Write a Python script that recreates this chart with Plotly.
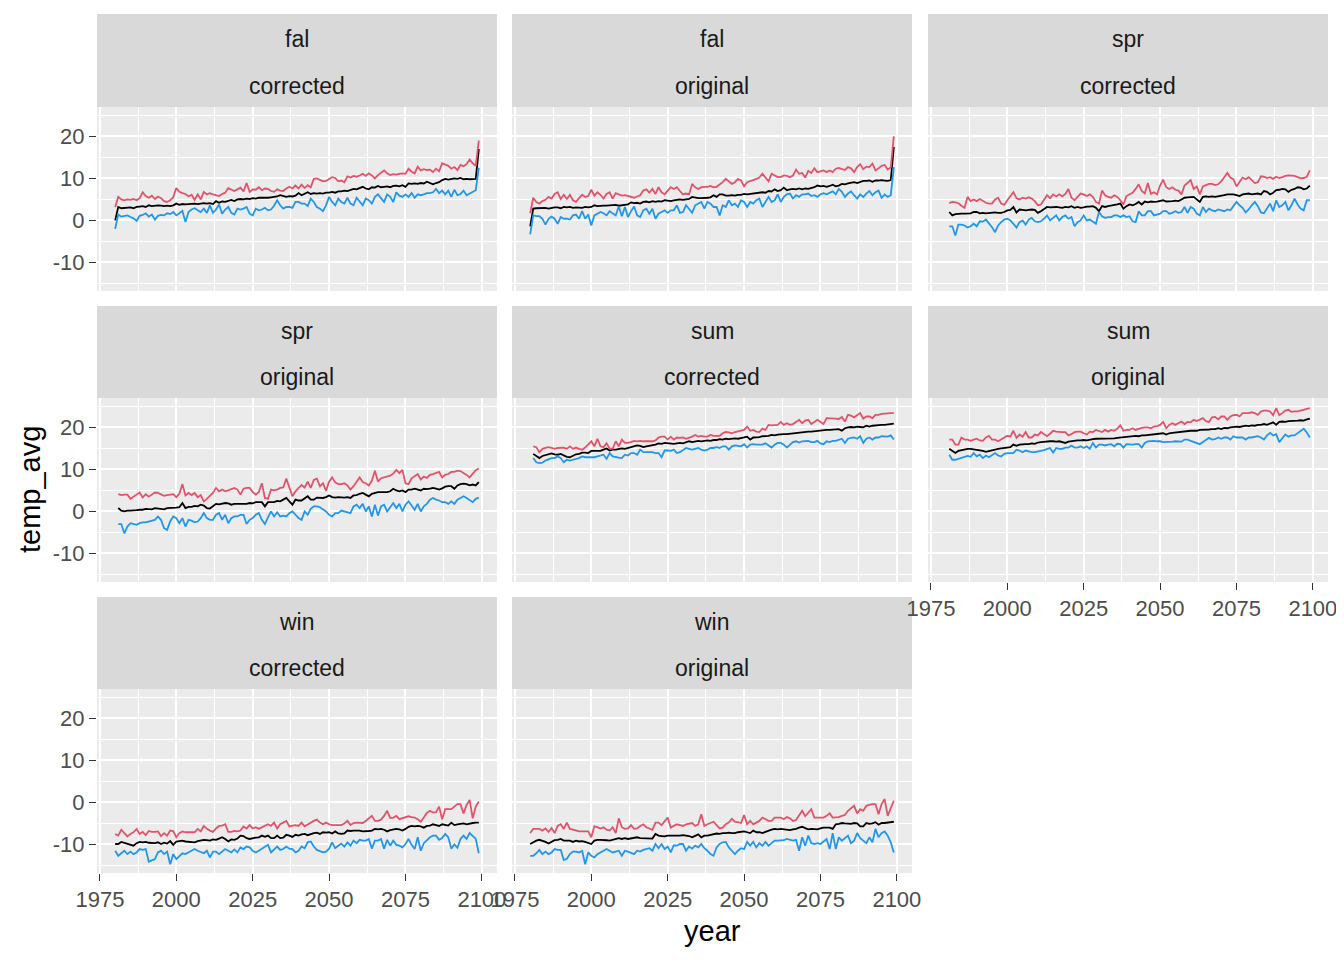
import plotly.graph_objects as go

# ---------------- data ----------------
years_fw = list(range(1980, 2100))   # fal, win panels
years_ss = list(range(1981, 2100))   # spr, sum panels

panel_season = ["fal", "fal", "spr", "spr", "sum", "sum", "win", "win"]
panel_type = ["corrected", "original", "corrected", "original",
              "corrected", "original", "corrected", "original"]

x_ticks = [1975, 2000, 2025, 2050, 2075, 2100]
x_tick_labels = ["1975", "2000", "2025", "2050", "2075", "2100"]
y_ticks = [-10, 0, 10, 20]
y_tick_labels = ["-10", "0", "10", "20"]

fal_cor_max = [3.2, 5.6, 5.0, 4.8, 5.0, 4.9, 5.1, 4.8, 5.3, 6.7,
               5.8, 5.4, 5.9, 5.1, 5.7, 5.3, 4.6, 4.4, 4.8, 5.5,
               7.7, 6.8, 6.5, 6.3, 5.7, 6.1, 4.9, 6.2, 5.0, 6.8,
               6.2, 6.5, 6.2, 6.0, 5.8, 6.3, 6.6, 7.7, 7.3, 7.0,
               7.4, 7.8, 6.9, 8.9, 6.8, 7.4, 7.3, 7.9, 7.2, 7.6,
               7.5, 7.0, 6.8, 7.4, 7.1, 7.0, 7.6, 8.0, 7.6, 8.3,
               7.6, 8.5, 7.7, 8.4, 7.9, 9.9, 10.0, 9.6, 9.3, 9.4,
               9.9, 10.3, 10.1, 9.3, 9.5, 9.1, 10.5, 10.2, 10.6, 10.4,
               10.7, 11.1, 10.6, 11.2, 10.7, 10.0, 10.8, 11.4, 11.9, 11.2,
               10.8, 11.0, 10.9, 11.1, 11.2, 11.1, 12.3, 11.6, 11.2, 12.8,
               11.9, 12.2, 12.0, 12.1, 11.5, 12.3, 11.7, 13.6, 13.3, 13.0,
               12.3, 12.7, 12.0, 13.2, 12.9, 13.4, 14.5, 13.6, 13.0, 19.0]
fal_cor_avg = [0.0, 3.2, 2.9, 3.0, 3.0, 3.1, 2.9, 3.2, 3.3, 3.4,
               3.2, 3.6, 3.4, 3.5, 3.6, 3.5, 3.4, 3.5, 3.4, 3.6,
               4.0, 3.7, 3.9, 3.8, 3.9, 3.9, 4.0, 3.9, 4.0, 4.1,
               4.0, 4.1, 3.9, 4.6, 4.2, 4.5, 4.4, 4.7, 4.9, 4.6,
               5.0, 5.1, 5.0, 5.2, 5.1, 5.3, 5.2, 5.4, 5.4, 5.3,
               5.4, 5.5, 5.6, 5.7, 6.0, 5.8, 5.6, 5.8, 5.7, 5.9,
               6.5, 6.0, 6.4, 6.7, 6.3, 6.5, 6.4, 6.5, 6.4, 6.6,
               6.6, 6.8, 6.6, 6.9, 6.9, 7.1, 7.0, 7.2, 7.5, 7.4,
               7.7, 8.0, 7.6, 7.4, 7.9, 7.8, 8.2, 7.9, 8.0, 8.1,
               7.9, 8.2, 8.3, 8.1, 8.4, 8.0, 8.8, 8.7, 8.8, 8.7,
               8.9, 8.8, 9.2, 8.8, 8.6, 8.9, 9.1, 9.6, 9.9, 9.7,
               9.9, 10.0, 9.9, 10.1, 9.8, 9.9, 9.8, 9.9, 9.9, 17.0]
fal_cor_min = [-2.0, 1.4, 0.9, 1.1, 1.2, 0.8, 0.5, -0.1, 1.1, 1.3,
               1.7, 0.9, 1.4, 0.2, 1.1, 1.3, 1.2, 1.7, 1.5, 2.0,
               1.2, 1.7, 2.3, -0.4, 2.0, 2.6, 2.9, 2.4, 2.0, 2.8,
               1.8, 3.6, 1.8, 2.6, 3.8, 1.6, 2.6, 3.2, 1.8, 1.4,
               2.8, 2.6, 2.8, 3.2, 1.6, 1.2, 2.8, 2.4, 2.6, 3.0,
               2.4, 2.6, 3.5, 4.8, 3.6, 2.8, 3.2, 3.2, 3.0, 4.4,
               4.4, 4.0, 4.0, 3.4, 5.2, 4.4, 3.2, 2.8, 2.2, 3.6,
               5.6, 4.4, 3.6, 5.2, 4.4, 4.0, 5.4, 4.0, 3.6, 5.4,
               4.4, 3.6, 5.2, 4.8, 4.0, 5.6, 6.2, 5.2, 4.4, 6.2,
               5.6, 4.4, 6.7, 5.9, 5.6, 6.2, 5.6, 6.5, 5.4, 6.2,
               6.0, 6.2, 6.5, 6.5, 6.7, 7.5, 6.5, 7.1, 6.2, 7.1,
               5.6, 7.3, 6.0, 6.3, 7.1, 6.0, 6.4, 6.9, 7.2, 12.5]

fal_ori_max = [1.7, 5.4, 4.4, 4.0, 4.6, 4.9, 5.6, 5.2, 6.3, 6.7,
               5.1, 6.1, 5.1, 6.1, 4.8, 4.4, 5.3, 6.1, 5.6, 5.8,
               7.3, 5.9, 6.7, 6.1, 5.2, 6.3, 6.7, 5.2, 6.5, 6.2,
               5.9, 6.0, 5.8, 5.6, 5.4, 5.7, 6.0, 7.1, 7.4, 6.6,
               7.5, 6.3, 7.9, 6.7, 6.2, 7.1, 7.9, 7.5, 7.9, 7.0,
               6.2, 6.4, 6.2, 8.7, 7.9, 7.5, 7.9, 8.0, 8.0, 8.2,
               7.9, 8.0, 8.5, 9.1, 9.9, 9.3, 8.7, 9.1, 9.9, 9.5,
               8.1, 9.1, 9.3, 9.6, 9.9, 10.2, 11.1, 10.3, 9.3, 11.1,
               10.7, 10.3, 10.3, 10.7, 10.6, 10.3, 10.7, 12.1, 11.1, 11.3,
               10.2, 11.8, 11.3, 12.4, 11.5, 11.7, 11.9, 11.5, 11.9, 11.5,
               12.3, 12.5, 12.2, 12.0, 12.7, 12.4, 11.5, 12.7, 13.4, 12.2,
               12.8, 12.7, 13.5, 11.9, 12.4, 13.0, 13.2, 12.1, 12.6, 20.0]
fal_ori_avg = [-1.4, 2.8, 2.9, 2.9, 2.9, 3.0, 2.8, 3.0, 3.1, 3.1,
               2.9, 3.2, 3.1, 3.2, 3.0, 3.1, 3.1, 3.0, 3.2, 3.1,
               3.2, 3.6, 3.4, 3.5, 3.5, 3.5, 3.6, 3.6, 3.7, 3.5,
               3.6, 3.7, 3.8, 4.3, 4.1, 4.2, 4.0, 4.4, 4.5, 4.3,
               4.6, 4.4, 4.6, 4.5, 4.8, 4.7, 4.6, 4.8, 4.9, 5.0,
               4.9, 5.0, 5.1, 5.6, 5.4, 5.3, 5.3, 5.3, 5.4, 5.5,
               6.0, 5.6, 6.2, 6.2, 5.9, 5.9, 6.0, 5.9, 6.1, 6.1,
               6.3, 6.2, 6.3, 6.4, 6.6, 6.6, 6.7, 6.6, 7.0, 6.9,
               7.4, 7.0, 7.2, 7.8, 7.2, 7.4, 7.5, 7.4, 7.6, 7.4,
               7.6, 7.5, 7.7, 7.9, 8.3, 8.1, 8.2, 8.0, 8.2, 8.5,
               8.1, 8.3, 8.7, 8.6, 8.8, 8.9, 9.1, 8.9, 9.2, 9.4,
               9.4, 9.5, 9.2, 9.5, 9.5, 9.6, 9.5, 9.4, 9.6, 17.5]
fal_ori_min = [-3.3, 1.2, 1.0, 1.0, 0.4, -1.0, 0.4, 0.9, 0.4, -0.8,
               0.8, 0.4, 0.4, 0.2, 1.2, 1.4, 0.4, 2.2, 0.4, 1.4,
               -1.2, 1.2, 1.6, 2.0, 1.7, 1.2, 2.2, 1.7, 1.2, 3.3,
               1.0, 3.2, 0.8, 2.2, 3.3, 1.2, 0.8, 2.4, 2.8, 1.6,
               2.8, 0.4, 1.6, 2.0, 2.4, 1.8, 2.4, 2.4, 3.6, 1.8,
               2.0, 3.6, 2.8, 1.8, 3.6, 4.0, 4.4, 2.8, 4.4, 4.0,
               3.2, 3.2, 1.2, 3.6, 3.2, 4.8, 3.6, 4.0, 3.2, 4.8,
               4.4, 3.2, 4.4, 4.0, 4.8, 5.2, 3.2, 4.4, 5.6, 4.4,
               4.8, 6.2, 4.4, 5.6, 6.2, 6.4, 5.2, 6.0, 5.6, 6.2,
               6.2, 6.4, 5.8, 6.0, 5.6, 6.2, 6.5, 6.2, 6.6, 6.9,
               6.2, 7.5, 6.8, 5.6, 6.4, 6.9, 6.0, 5.2, 6.2, 5.6,
               6.4, 7.0, 6.0, 6.7, 7.1, 5.4, 6.2, 5.6, 6.0, 12.7]

spr_cor_max = [4.1, 4.4, 4.3, 4.1, 3.5, 3.0, 5.6, 4.6, 5.0, 4.6,
               5.1, 4.6, 4.2, 4.0, 4.0, 5.0, 5.4, 4.0, 3.7, 4.8,
               5.8, 6.7, 5.3, 5.0, 5.4, 5.2, 5.5, 5.2, 4.6, 3.6,
               3.8, 4.8, 6.0, 5.3, 6.2, 5.7, 6.2, 5.7, 6.3, 7.5,
               5.4, 4.8, 5.5, 6.4, 6.2, 5.8, 6.2, 5.6, 4.4, 4.0,
               7.1, 6.0, 5.6, 5.4, 6.0, 5.6, 4.8, 3.8, 5.8, 6.3,
               6.6, 7.5, 8.6, 7.0, 6.4, 8.9, 6.3, 6.7, 6.2, 8.3,
               9.7, 7.9, 7.5, 7.9, 7.3, 7.1, 6.2, 8.3, 8.9, 9.6,
               7.5, 8.1, 6.2, 8.1, 8.4, 8.7, 8.7, 8.4, 8.6, 9.3,
               10.3, 11.3, 10.2, 9.8, 8.1, 9.2, 10.2, 9.8, 10.3, 9.6,
               8.9, 9.1, 10.5, 10.4, 10.1, 10.3, 9.9, 10.4, 10.1, 10.3,
               10.6, 10.7, 10.7, 10.6, 10.3, 10.0, 10.1, 10.4, 11.9]
spr_cor_avg = [2.0, 1.2, 1.5, 1.6, 1.6, 1.6, 1.7, 1.7, 2.0, 2.0,
               1.7, 1.8, 1.7, 1.8, 1.8, 1.9, 1.8, 1.8, 2.0, 2.4,
               2.5, 3.2, 1.9, 2.6, 2.5, 2.4, 2.5, 2.6, 2.5, 1.8,
               2.2, 2.8, 3.2, 3.1, 3.2, 3.2, 3.1, 3.0, 3.2, 3.1,
               3.4, 3.0, 3.2, 3.0, 3.1, 3.3, 3.3, 3.4, 3.0, 2.2,
               3.4, 3.2, 3.4, 3.5, 3.6, 3.8, 4.0, 2.8, 3.4, 3.8,
               3.6, 3.9, 4.4, 3.8, 4.5, 4.3, 4.5, 4.4, 4.5, 4.7,
               4.8, 4.5, 4.5, 4.6, 4.7, 4.6, 5.0, 5.4, 5.5, 5.5,
               5.6, 5.0, 4.4, 5.6, 5.7, 5.6, 5.7, 5.6, 5.7, 5.8,
               6.0, 6.2, 6.2, 6.2, 6.0, 5.8, 6.2, 6.3, 6.4, 6.2,
               6.3, 6.4, 6.2, 7.0, 6.8, 6.2, 6.6, 7.2, 7.3, 7.5,
               7.4, 6.8, 7.3, 7.5, 7.9, 7.8, 7.4, 7.6, 8.3]
spr_cor_min = [-1.4, -1.4, -3.6, -1.0, -1.0, -1.2, -1.7, -1.4, -0.8, -1.4,
               -0.2, -0.3, 0.2, -0.6, -1.6, -2.8, -1.2, -0.4, 0.2, 0.4,
               0.0, -0.8, -1.7, -0.4, 0.0, -1.0, 0.2, 0.6, -0.2, -0.4,
               -0.2, 0.4, 1.2, 0.0, 0.6, 1.2, 0.0, 0.8, 1.2, 0.4,
               0.8, -1.4, -0.4, 0.0, 1.2, 0.0, 0.2, -0.2, -0.8, 2.0,
               1.0, 0.6, 0.8, 0.8, 1.2, 1.2, 0.8, 1.2, 0.8, 1.0,
               -0.2, -0.4, 2.2, 1.2, 1.2, 2.2, 2.2, 1.2, 1.4, 1.6,
               2.2, 2.2, 1.6, 1.8, 2.2, 1.8, 2.0, 3.2, 1.8, 3.2,
               2.8, 1.6, 1.2, 3.2, 2.0, 2.8, 2.4, 2.2, 2.6, 2.4,
               2.2, 2.6, 2.4, 3.4, 4.4, 3.6, 3.0, 1.9, 2.6, 3.6,
               4.4, 3.4, 1.9, 1.7, 2.8, 4.0, 2.2, 4.8, 3.2, 3.6,
               4.4, 2.4, 3.6, 5.2, 3.8, 2.8, 2.4, 4.8, 4.8]

spr_ori_max = [4.1, 3.9, 4.0, 4.0, 3.0, 3.6, 4.0, 4.5, 3.3, 4.1,
               3.5, 4.0, 4.5, 4.4, 4.0, 3.7, 3.9, 4.0, 4.1, 3.4,
               4.2, 6.5, 3.8, 4.4, 3.9, 4.4, 3.4, 3.9, 2.4, 3.0,
               3.6, 4.4, 5.6, 4.8, 5.2, 4.8, 5.0, 5.4, 5.6, 5.2,
               4.0, 5.4, 5.6, 5.6, 4.6, 4.0, 4.6, 6.7, 3.2, 3.0,
               5.2, 5.0, 5.2, 5.6, 5.7, 7.8, 5.9, 3.6, 4.8, 5.6,
               6.3, 5.7, 7.1, 5.6, 7.5, 7.8, 6.0, 6.7, 4.9, 7.1,
               8.1, 6.9, 6.5, 6.5, 6.7, 6.2, 5.2, 6.0, 7.1, 8.1,
               7.0, 6.7, 6.2, 7.3, 9.7, 7.1, 7.9, 8.1, 8.3, 8.5,
               9.0, 9.9, 9.1, 9.9, 6.7, 6.5, 7.9, 8.5, 8.9, 7.6,
               8.3, 8.0, 8.7, 8.9, 9.1, 9.4, 8.1, 8.7, 8.9, 9.4,
               9.4, 9.7, 9.6, 9.2, 8.7, 8.1, 8.9, 9.8, 10.2]
spr_ori_avg = [0.8, 0.2, 0.0, 0.2, 0.2, 0.2, 0.3, 0.4, 0.4, 0.6,
               0.6, 0.5, 0.8, 0.7, 0.6, 0.5, 0.8, 0.8, 0.9, 0.9,
               1.0, 2.0, 0.8, 1.1, 1.1, 1.3, 1.2, 1.6, 1.4, 0.8,
               0.7, 1.2, 1.8, 1.7, 1.8, 2.0, 1.9, 1.6, 1.8, 1.8,
               1.7, 1.8, 1.8, 2.0, 1.9, 2.2, 2.2, 2.2, 1.2, 2.2,
               2.2, 2.2, 2.5, 2.4, 2.8, 3.2, 2.4, 1.6, 2.8, 2.6,
               2.6, 3.0, 3.6, 2.8, 2.8, 3.3, 3.2, 3.2, 3.4, 3.8,
               3.4, 3.3, 3.4, 3.3, 3.3, 3.4, 3.2, 3.8, 3.9, 4.2,
               4.4, 4.0, 3.6, 4.2, 4.4, 4.6, 4.6, 4.6, 4.6, 4.8,
               5.4, 5.0, 4.8, 5.0, 4.6, 5.2, 5.2, 5.4, 5.2, 5.0,
               5.4, 5.3, 5.4, 5.6, 5.4, 5.2, 5.5, 5.9, 6.0, 6.0,
               5.4, 6.2, 6.5, 6.6, 6.5, 6.2, 6.4, 6.2, 7.0]
spr_ori_min = [-3.0, -3.0, -5.2, -3.6, -2.8, -3.0, -3.2, -2.8, -2.6, -2.6,
               -2.4, -2.2, -2.0, -1.2, -2.0, -4.0, -4.4, -2.4, -1.2, -1.6,
               -2.8, -1.6, -3.6, -2.0, -2.2, -2.6, -2.4, -1.6, -0.4, -1.6,
               -2.0, -2.0, -0.8, -0.4, -2.0, -0.8, -2.8, -1.6, -1.2, -1.2,
               -0.8, -0.8, -3.0, -2.0, -1.6, -0.8, -0.4, -2.0, -3.0, -1.4,
               0.0, -1.2, -0.2, -1.2, -1.0, -1.2, -0.4, 0.0, -0.8, -1.6,
               -2.0, 0.0, -0.8, 0.6, 1.2, 1.2, 1.0, 0.6, 0.0, -0.8,
               -1.2, -0.4, -0.4, 0.2, 0.0, -0.2, -0.4, 1.2, 1.6, 0.8,
               1.8, 0.0, 1.2, -1.2, 1.6, -1.0, 1.2, 1.6, 0.0, 1.0,
               2.0, 0.8, 1.8, 0.0, 1.6, 2.4, 1.4, 0.4, 1.8, 0.0,
               1.2, 1.8, 2.8, 3.2, 2.8, 2.6, 2.2, 2.2, 1.8, 2.4,
               1.8, 2.8, 3.2, 3.6, 3.2, 2.8, 2.2, 3.0, 3.3]

sum_cor_max = [15.5, 15.3, 14.1, 14.9, 15.1, 15.3, 15.1, 14.9, 15.1, 15.1,
               15.2, 14.9, 15.5, 14.9, 15.2, 14.9, 14.7, 15.2, 16.0, 16.7,
               15.5, 17.3, 15.5, 15.3, 16.2, 15.0, 14.9, 16.7, 15.5, 17.1,
               16.3, 16.3, 16.5, 16.8, 16.7, 16.8, 16.7, 16.7, 16.6, 16.7,
               16.9, 17.6, 17.8, 17.8, 17.1, 17.8, 17.1, 17.6, 17.5, 17.6,
               17.3, 17.5, 17.8, 18.2, 17.8, 18.0, 17.8, 17.8, 18.2, 18.0,
               18.0, 18.0, 18.6, 18.9, 18.8, 18.6, 18.9, 19.1, 19.2, 19.4,
               20.2, 19.2, 19.4, 19.0, 18.9, 19.7, 19.4, 20.6, 20.5, 20.6,
               20.6, 21.3, 20.6, 21.0, 20.6, 20.8, 21.3, 21.8, 21.0, 21.6,
               21.8, 20.8, 21.3, 21.8, 21.3, 20.8, 22.2, 22.2, 22.1, 22.1,
               22.0, 22.5, 21.4, 23.0, 22.8, 22.4, 22.9, 23.4, 22.1, 22.6,
               22.6, 22.2, 23.0, 23.0, 23.2, 23.3, 23.4, 23.4, 23.4]
sum_cor_avg = [13.7, 13.3, 12.7, 13.2, 13.4, 13.5, 13.8, 13.6, 13.5, 13.7,
               13.3, 13.0, 12.9, 13.3, 13.6, 13.7, 14.0, 14.0, 13.9, 14.4,
               14.4, 14.5, 14.4, 14.7, 15.0, 14.5, 14.7, 14.7, 14.8, 15.0,
               14.9, 15.1, 15.3, 15.5, 15.7, 15.6, 15.3, 15.5, 15.6, 15.8,
               15.9, 16.2, 16.1, 16.3, 16.2, 16.2, 16.1, 16.2, 16.3, 16.2,
               16.4, 16.7, 16.5, 16.6, 16.8, 16.7, 16.8, 16.9, 16.8, 17.0,
               17.0, 17.2, 17.1, 17.3, 17.2, 17.3, 17.4, 17.3, 17.4, 17.6,
               17.8, 17.1, 17.6, 17.6, 17.7, 17.9, 17.9, 18.0, 18.2, 18.1,
               18.3, 18.4, 18.4, 18.4, 18.5, 18.6, 18.6, 18.7, 18.8, 18.9,
               19.0, 19.0, 19.1, 19.2, 19.3, 19.3, 19.4, 19.4, 19.5, 19.6,
               19.6, 19.2, 19.8, 20.0, 20.1, 20.0, 20.2, 20.1, 20.0, 20.4,
               20.2, 20.4, 20.5, 20.5, 20.6, 20.6, 20.7, 20.7, 20.9]
sum_cor_min = [12.7, 11.7, 11.5, 11.6, 12.1, 12.5, 12.7, 12.7, 13.1, 12.7,
               11.7, 12.3, 12.1, 12.3, 12.5, 12.7, 13.1, 12.9, 12.9, 12.9,
               12.9, 13.1, 13.3, 13.5, 12.5, 13.9, 13.1, 12.9, 12.8, 12.7,
               13.5, 13.3, 13.9, 13.9, 13.5, 14.7, 14.1, 14.1, 14.1, 14.1,
               13.9, 13.9, 12.9, 14.5, 14.5, 14.4, 14.7, 13.9, 14.1, 14.7,
               15.1, 14.9, 14.7, 14.9, 15.1, 14.7, 14.5, 14.7, 15.1, 15.1,
               15.3, 15.1, 15.5, 15.5, 14.7, 15.5, 15.7, 15.6, 15.5, 16.0,
               15.2, 15.9, 16.0, 15.9, 15.9, 15.9, 16.2, 15.6, 15.2, 15.9,
               16.3, 16.3, 15.9, 15.2, 15.9, 16.5, 16.7, 16.4, 16.7, 16.7,
               16.8, 16.5, 16.5, 16.8, 16.2, 16.0, 16.7, 16.5, 16.8, 16.8,
               17.0, 17.3, 16.3, 17.3, 17.5, 17.6, 17.3, 17.9, 16.3, 17.3,
               17.6, 17.1, 17.6, 17.6, 17.9, 17.9, 17.8, 18.1, 17.1]

sum_ori_max = [17.1, 17.1, 15.9, 15.9, 17.6, 17.1, 17.1, 16.8, 17.1, 17.3,
               16.9, 16.8, 17.6, 18.0, 17.1, 17.1, 16.7, 17.1, 17.6, 18.0,
               17.8, 19.2, 17.5, 18.3, 17.8, 18.9, 17.6, 17.6, 18.3, 18.1,
               18.9, 18.3, 17.9, 18.5, 19.2, 19.0, 18.9, 18.9, 18.9, 18.1,
               18.4, 18.9, 19.0, 19.0, 18.6, 18.3, 19.0, 18.9, 19.4, 19.2,
               18.9, 19.4, 19.0, 19.4, 19.2, 19.7, 20.5, 19.2, 19.4, 19.4,
               19.8, 19.4, 19.7, 19.9, 20.0, 20.0, 19.8, 20.2, 20.3, 20.6,
               21.3, 19.8, 20.6, 21.0, 20.6, 21.0, 21.4, 20.8, 21.3, 21.2,
               21.8, 21.5, 21.8, 22.2, 21.5, 21.3, 22.4, 22.5, 21.9, 22.6,
               22.6, 21.8, 22.6, 22.9, 23.0, 22.6, 23.4, 23.4, 23.4, 23.6,
               23.4, 23.0, 23.8, 24.0, 24.0, 23.8, 22.9, 24.6, 22.9, 23.4,
               24.0, 24.2, 23.7, 23.8, 23.8, 24.0, 24.2, 24.4, 24.6]
sum_ori_avg = [14.9, 14.3, 13.9, 14.4, 14.6, 14.7, 14.9, 14.9, 14.8, 14.6,
               14.5, 14.4, 14.2, 14.4, 14.6, 14.8, 14.9, 15.0, 15.1, 15.3,
               15.3, 15.9, 15.6, 15.9, 16.0, 16.0, 16.0, 16.2, 16.1, 16.4,
               16.5, 16.6, 16.6, 16.7, 16.7, 16.6, 16.7, 16.5, 16.3, 16.6,
               16.7, 16.9, 16.9, 16.9, 17.0, 16.9, 17.1, 17.2, 17.3, 17.3,
               17.3, 17.4, 17.4, 17.4, 17.4, 17.5, 17.6, 17.6, 17.8, 17.9,
               18.0, 18.0, 17.9, 18.1, 18.1, 18.2, 18.3, 18.3, 18.4, 18.6,
               18.6, 18.3, 18.6, 18.7, 18.8, 18.9, 18.9, 19.0, 19.1, 19.2,
               19.2, 19.2, 19.4, 19.4, 19.4, 19.5, 19.6, 19.6, 19.8, 19.6,
               19.9, 19.8, 20.0, 20.1, 20.2, 20.1, 20.2, 20.4, 20.3, 20.5,
               20.4, 20.6, 20.6, 20.8, 20.6, 20.9, 21.2, 20.6, 21.3, 21.4,
               21.3, 21.5, 21.5, 21.6, 21.6, 21.7, 21.6, 21.9, 22.1]
sum_ori_min = [13.5, 12.3, 12.3, 12.5, 12.8, 13.0, 13.2, 13.0, 13.9, 13.1,
               13.5, 12.7, 13.3, 12.9, 13.5, 13.9, 13.3, 13.1, 13.7, 13.9,
               13.9, 13.9, 14.7, 14.5, 14.1, 14.5, 14.3, 14.1, 14.1, 14.2,
               14.4, 14.6, 14.9, 15.1, 14.0, 15.1, 14.9, 14.9, 15.2, 15.2,
               15.7, 15.2, 15.2, 15.5, 15.1, 15.5, 14.9, 16.3, 15.2, 15.9,
               15.9, 15.7, 15.9, 16.0, 15.5, 16.1, 16.0, 15.2, 16.0, 15.9,
               15.9, 16.0, 16.0, 15.2, 16.3, 16.7, 16.8, 16.8, 16.7, 16.7,
               16.5, 16.5, 16.5, 16.6, 16.7, 16.7, 16.6, 17.1, 17.1, 16.8,
               16.5, 16.2, 16.0, 16.5, 17.1, 17.5, 17.1, 17.2, 17.6, 17.3,
               17.6, 17.6, 17.1, 17.9, 17.6, 17.6, 17.6, 17.1, 17.6, 17.6,
               17.8, 17.9, 17.6, 17.1, 18.1, 18.7, 18.1, 18.4, 16.5, 17.3,
               18.3, 17.8, 18.1, 18.1, 18.7, 19.2, 19.7, 18.8, 17.6]

win_cor_max = [-7.5, -7.9, -6.5, -7.3, -8.1, -7.5, -7.1, -6.3, -7.5, -7.0,
               -7.8, -6.8, -7.0, -7.0, -6.9, -8.0, -7.3, -7.9, -6.7, -6.8,
               -8.3, -7.3, -6.9, -7.1, -7.1, -7.2, -7.1, -6.3, -6.9, -5.6,
               -6.3, -6.7, -7.0, -6.2, -5.6, -5.5, -5.2, -7.0, -7.0, -6.8,
               -6.9, -6.7, -5.7, -6.2, -5.4, -6.2, -5.9, -6.3, -5.9, -5.6,
               -5.2, -5.6, -4.8, -6.2, -5.2, -4.8, -4.4, -5.7, -5.6, -5.4,
               -5.6, -4.8, -5.7, -5.2, -4.8, -4.4, -4.1, -4.8, -5.2, -4.8,
               -5.2, -5.4, -5.4, -5.4, -5.4, -5.0, -4.4, -5.4, -4.9, -4.8,
               -4.8, -4.9, -4.4, -3.8, -3.2, -4.4, -4.4, -4.1, -3.2, -2.0,
               -3.7, -3.6, -3.2, -4.0, -3.8, -3.6, -3.3, -3.5, -3.6, -4.0,
               -4.6, -3.6, -2.5, -2.0, -2.4, -2.3, -1.0, -4.0, -1.6, -1.6,
               -1.6, -1.0, -0.4, -0.4, -2.6, -0.6, 0.6, -3.8, -1.0, 0.2]
win_cor_avg = [-9.9, -9.9, -9.4, -9.6, -9.9, -10.0, -10.3, -9.7, -9.4, -9.5,
               -9.4, -9.6, -9.6, -9.7, -9.5, -9.9, -9.6, -9.8, -9.2, -10.1,
               -9.3, -9.2, -9.1, -9.3, -9.4, -9.4, -9.5, -9.2, -9.0, -8.9,
               -9.0, -9.1, -8.8, -8.9, -8.6, -8.3, -8.7, -9.3, -8.8, -8.9,
               -8.6, -7.9, -8.0, -8.5, -8.7, -8.5, -8.4, -8.3, -7.9, -8.2,
               -7.9, -8.5, -8.5, -7.9, -8.5, -8.4, -7.7, -7.9, -8.2, -7.7,
               -7.9, -7.6, -7.5, -7.8, -7.5, -7.3, -7.2, -7.5, -7.1, -7.2,
               -7.1, -7.4, -6.9, -7.4, -7.5, -7.4, -6.7, -6.8, -6.7, -6.7,
               -6.7, -6.9, -6.9, -6.8, -6.7, -6.3, -6.4, -6.3, -6.5, -6.9,
               -6.6, -6.4, -6.3, -6.4, -6.7, -6.3, -5.8, -5.6, -5.7, -5.6,
               -5.7, -6.0, -5.6, -5.5, -5.2, -5.4, -5.6, -5.2, -5.4, -5.5,
               -4.8, -5.4, -5.2, -5.1, -5.0, -5.2, -5.0, -4.9, -4.8, -4.8]
win_cor_min = [-11.5, -12.7, -12.1, -11.5, -12.3, -11.7, -12.3, -11.9, -11.1, -11.3,
               -11.1, -14.1, -13.8, -13.5, -11.9, -11.5, -12.3, -11.7, -14.7, -12.3,
               -13.5, -12.7, -12.1, -12.3, -11.9, -11.5, -11.1, -11.5, -11.9, -12.1,
               -11.5, -13.1, -11.7, -11.7, -12.3, -11.7, -11.1, -11.5, -11.9, -11.2,
               -11.9, -10.7, -11.1, -10.5, -10.7, -11.5, -11.9, -11.5, -11.0, -10.5,
               -10.1, -11.9, -11.1, -10.5, -11.3, -11.1, -10.5, -11.0, -11.1, -11.9,
               -11.5, -10.5, -10.9, -9.5, -9.3, -10.5, -11.3, -11.7, -11.9, -11.7,
               -11.0, -9.5, -10.9, -10.3, -9.8, -10.5, -9.5, -10.3, -9.1, -9.7,
               -8.9, -9.1, -9.1, -8.7, -11.0, -9.1, -9.1, -8.7, -11.0, -8.9,
               -10.3, -9.1, -10.1, -10.3, -10.7, -9.9, -8.7, -10.1, -11.1, -8.3,
               -11.5, -9.7, -8.9, -8.3, -7.9, -7.9, -8.9, -8.5, -7.5, -8.3,
               -11.0, -10.0, -10.8, -8.7, -7.9, -8.7, -7.3, -7.9, -8.7, -12.1]

win_ori_max = [-7.3, -6.3, -6.3, -6.3, -6.7, -6.2, -7.0, -6.1, -7.3, -5.6,
               -5.2, -6.3, -4.8, -6.3, -6.5, -6.7, -6.9, -6.9, -6.9, -6.9,
               -8.3, -5.7, -5.9, -6.2, -5.9, -6.5, -6.7, -5.9, -7.3, -3.8,
               -5.9, -6.3, -6.2, -5.4, -6.3, -6.2, -5.6, -5.2, -5.9, -6.3,
               -6.5, -4.8, -4.8, -5.4, -4.4, -3.6, -6.0, -5.6, -5.2, -5.4,
               -5.6, -5.2, -5.0, -4.9, -5.6, -5.2, -2.8, -5.6, -5.2, -4.8,
               -4.6, -5.4, -6.2, -6.0, -5.2, -4.8, -3.9, -4.6, -4.8, -4.9,
               -3.0, -5.2, -4.4, -5.2, -4.8, -4.4, -3.6, -4.1, -4.4, -4.4,
               -3.6, -3.6, -3.6, -4.0, -3.5, -3.8, -4.4, -4.2, -3.0, -2.0,
               -3.3, -2.4, -1.6, -3.6, -3.6, -3.6, -3.6, -3.2, -2.6, -3.6,
               -3.6, -3.5, -3.2, -3.0, -2.0, -1.5, -0.8, -2.6, -1.6, -2.0,
               -0.8, -0.6, -0.4, -0.4, -2.8, -0.4, 0.8, -3.2, -1.6, 0.4]
win_ori_avg = [-9.9, -9.4, -9.1, -8.9, -9.1, -9.4, -9.8, -9.4, -9.0, -8.9,
               -8.7, -9.1, -9.1, -9.1, -9.4, -9.1, -9.3, -9.2, -9.4, -9.6,
               -9.9, -9.1, -8.9, -8.9, -8.9, -9.0, -9.1, -8.9, -8.7, -8.5,
               -8.7, -8.5, -8.7, -8.6, -8.5, -8.3, -8.5, -8.5, -8.5, -8.6,
               -8.6, -7.5, -7.9, -8.0, -8.1, -7.9, -7.9, -8.0, -8.0, -7.9,
               -7.8, -7.9, -8.0, -8.3, -7.9, -7.6, -8.3, -7.9, -7.9, -7.7,
               -7.5, -7.4, -7.5, -7.3, -7.3, -7.2, -7.3, -7.3, -7.1, -7.0,
               -6.9, -7.1, -7.3, -6.7, -7.1, -7.1, -7.3, -7.0, -6.7, -6.5,
               -6.3, -6.4, -6.3, -6.4, -6.5, -6.6, -6.4, -6.3, -6.0, -5.8,
               -6.1, -6.4, -6.3, -6.3, -6.4, -6.2, -6.0, -6.0, -6.0, -6.3,
               -5.2, -5.1, -4.9, -5.0, -5.0, -5.1, -4.9, -5.0, -5.7, -5.7,
               -4.9, -5.1, -5.0, -4.7, -5.3, -4.9, -4.9, -4.8, -4.8, -4.6]
win_ori_min = [-12.7, -12.7, -12.1, -11.3, -12.3, -11.7, -12.3, -11.9, -11.1, -11.3,
               -11.3, -13.7, -13.4, -12.3, -11.7, -11.7, -11.9, -11.5, -14.7, -11.9,
               -12.7, -13.1, -12.3, -11.9, -11.5, -11.1, -11.5, -11.9, -11.7, -11.5,
               -12.7, -11.5, -11.7, -12.1, -12.3, -11.5, -11.7, -11.3, -11.1, -10.9,
               -11.5, -9.9, -10.9, -9.9, -11.1, -10.5, -11.9, -10.2, -10.3, -9.9,
               -9.9, -11.5, -10.5, -11.0, -10.3, -10.7, -9.9, -10.9, -11.5, -12.3,
               -12.7, -10.7, -9.9, -9.5, -9.4, -10.7, -11.5, -12.3, -11.5, -10.9,
               -11.1, -9.4, -10.3, -9.4, -10.7, -9.7, -10.3, -9.4, -10.3, -9.7,
               -9.1, -9.1, -9.1, -9.0, -8.7, -8.9, -9.1, -8.9, -11.5, -8.3,
               -10.3, -7.9, -9.7, -9.9, -9.7, -9.9, -9.3, -8.7, -11.1, -7.3,
               -11.1, -8.3, -9.1, -8.5, -7.9, -9.7, -9.1, -7.3, -8.5, -9.1,
               -9.7, -8.3, -9.5, -6.3, -8.3, -7.3, -6.9, -7.9, -9.5, -11.9]

panel_years = [years_fw, years_fw, years_ss, years_ss,
               years_ss, years_ss, years_fw, years_fw]
panel_series = [
    (fal_cor_avg, fal_cor_max, fal_cor_min),
    (fal_ori_avg, fal_ori_max, fal_ori_min),
    (spr_cor_avg, spr_cor_max, spr_cor_min),
    (spr_ori_avg, spr_ori_max, spr_ori_min),
    (sum_cor_avg, sum_cor_max, sum_cor_min),
    (sum_ori_avg, sum_ori_max, sum_ori_min),
    (win_cor_avg, win_cor_max, win_cor_min),
    (win_ori_avg, win_ori_max, win_ori_min),
]

# ---------------- layout geometry (pixels of the 1344x960 window) ----------------
OFF = 8                      # the page body margin shifts the figure by 8 px
W, H = 1344 - OFF, 960 - OFF
col_x = [(97, 497), (512, 912), (928, 1328)]
row_panel = [(107, 291), (398, 582), (689, 873)]
row_strip = [(14, 107), (306, 398), (597, 689)]

FONT = "Liberation Sans, Arial, sans-serif"
colors = ["#000000", "#DF536B", "#2297E6"]

fig = go.Figure()
layout = dict(
    width=W, height=H,
    margin=dict(l=0, r=0, t=0, b=0, autoexpand=False),
    paper_bgcolor="white",
    plot_bgcolor="#EBEBEB",
    showlegend=False,
    font=dict(family=FONT),
)
shapes, annotations = [], []

def px_x(p):
    return (p - OFF) / W

def px_y(p):
    return 1 - (p - OFF) / H

for k in range(8):
    r, c = divmod(k, 3)
    n = k + 1
    xa = "x" if n == 1 else f"x{n}"
    ya = "y" if n == 1 else f"y{n}"
    x0, x1 = col_x[c]
    y0, y1 = row_panel[r]
    show_x = (r == 2) or (k == 5)
    show_y = (c == 0)
    layout["xaxis" if n == 1 else f"xaxis{n}"] = dict(
        domain=[px_x(x0), px_x(x1)], anchor=ya, automargin=False,
        range=[1974.05, 2104.95], tickmode="array",
        tickvals=x_ticks, ticktext=x_tick_labels,
        showticklabels=show_x, ticks="outside" if show_x else "",
        ticklen=7, tickwidth=1.4, tickcolor="#333333",
        tickfont=dict(size=22, color="#4D4D4D", family=FONT),
        showgrid=True, gridcolor="white", gridwidth=2,
        minor=dict(tickmode="array",
                   tickvals=[1987.5, 2012.5, 2037.5, 2062.5, 2087.5],
                   showgrid=True, gridcolor="white", gridwidth=1, ticks=""),
        zeroline=False, showline=False, fixedrange=True,
    )
    layout["yaxis" if n == 1 else f"yaxis{n}"] = dict(
        domain=[px_y(y1), px_y(y0)], anchor=xa, automargin=False,
        range=[-16.8, 27.0], tickmode="array",
        tickvals=y_ticks, ticktext=y_tick_labels,
        showticklabels=show_y, ticks="outside" if show_y else "",
        ticklen=7, tickwidth=1.4, tickcolor="#333333",
        tickfont=dict(size=22, color="#4D4D4D", family=FONT),
        showgrid=True, gridcolor="white", gridwidth=2,
        minor=dict(tickmode="array", tickvals=[-15, -5, 5, 15, 25],
                   showgrid=True, gridcolor="white", gridwidth=1, ticks=""),
        zeroline=False, showline=False, fixedrange=True,
    )
    yrs = panel_years[k]
    for vals, col in zip(panel_series[k], colors):
        fig.add_trace(go.Scatter(x=yrs, y=vals, mode="lines", xaxis=xa, yaxis=ya,
                                 line=dict(color=col, width=1.8), hoverinfo="skip"))
    # strip
    s0, s1 = row_strip[r]
    shapes.append(dict(type="rect", xref="paper", yref="paper",
                       x0=px_x(x0), x1=px_x(x1), y0=px_y(s1), y1=px_y(s0),
                       fillcolor="#D9D9D9", line=dict(width=0), layer="below"))
    mid = (s0 + s1) / 2
    cx = px_x((x0 + x1) / 2)
    annotations.append(dict(text=panel_season[k], xref="paper", yref="paper",
                            x=cx, y=px_y((s0 + mid) / 2 + 2), showarrow=False,
                            xanchor="center", yanchor="middle",
                            font=dict(size=23, color="#1A1A1A", family=FONT)))
    annotations.append(dict(text=panel_type[k], xref="paper", yref="paper",
                            x=cx, y=px_y((mid + s1) / 2 + 2), showarrow=False,
                            xanchor="center", yanchor="middle",
                            font=dict(size=23, color="#1A1A1A", family=FONT)))

annotations.append(dict(text="year", xref="paper", yref="paper",
                        x=px_x(712), y=px_y(931), showarrow=False,
                        xanchor="center", yanchor="middle",
                        font=dict(size=29, color="black", family=FONT)))
annotations.append(dict(text="temp_avg", xref="paper", yref="paper",
                        x=px_x(30), y=px_y(490), showarrow=False, textangle=-90,
                        xanchor="center", yanchor="middle",
                        font=dict(size=29, color="black", family=FONT)))

layout["shapes"] = shapes
layout["annotations"] = annotations
fig.update_layout(**layout)
fig.write_html("out.html")
